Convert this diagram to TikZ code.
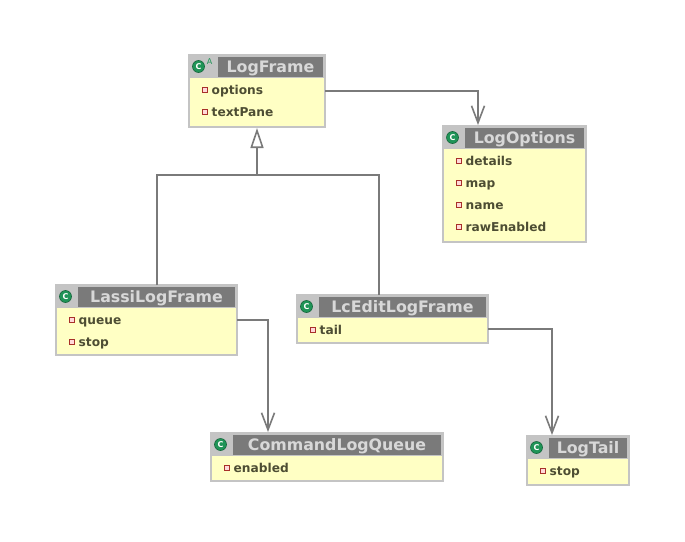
\documentclass[tikz,border=0pt]{standalone}
\usepackage{fontspec}
\setmainfont{DejaVu Sans}
\usetikzlibrary{arrows.meta,calc}
\definecolor{bodyY}{HTML}{FFFFC4}
\definecolor{frameG}{HTML}{C4C4C4}
\definecolor{hdrG}{HTML}{7A7A7A}
\definecolor{hdrT}{HTML}{D8D8D8}
\definecolor{attrT}{HTML}{4D4D33}
\definecolor{lineG}{HTML}{7A7A7A}
\definecolor{iconG}{HTML}{1F9457}
\definecolor{iconD}{HTML}{16663C}
\definecolor{bulR}{HTML}{A8302A}
\tikzset{
  box/.style={draw=frameG, fill=bodyY, line width=2pt, inner sep=0pt, outer sep=0pt},
  hdrtext/.style={text=hdrT, font=\bfseries\fontsize{15.8}{15.8}\selectfont, inner sep=0pt, anchor=base},
  attr/.style={text=attrT, font=\bfseries\fontsize{12.2}{12.2}\selectfont, inner sep=0pt, anchor=base west},
  icon/.style={circle, fill=iconG, draw=iconD, line width=0.6pt, minimum size=12pt, inner sep=0pt, text=white, font=\bfseries\fontsize{8}{8}\selectfont},
  bullet/.style={draw=bulR, fill=white!85!red, line width=1pt, minimum size=5pt, inner sep=0pt},
  conn/.style={draw=lineG, line width=2pt},
  assoc/.style={conn, -{Straight Barb[length=17pt, width=13pt, line width=1.6pt]}},
  inh/.style={conn, -{Triangle[open, length=20pt, width=13pt, line width=1.6pt, fill=white]}},
}
\newcommand\umlclass[8]{%
  \node[box, minimum width=#4pt, minimum height=#5pt, anchor=north west] (#1) at (#2,#3) {};
  \fill[frameG] (#2-1,#3-1) rectangle (#2+#4+1,#3+23);
  \fill[hdrG] (#2+#6,#3+2) rectangle (#2+#4-2,#3+22);
  \node[hdrtext] (#1-t) at ({#2+(#6+#4-2)/2},#3+17.5) {#7};
  \node[icon] (#1-i) at (#2+9.5,#3+11.5) {C};
  \foreach \a [count=\k] in {#8} {
    \node[bullet] (#1-b\k) at ({#2+15.5},{#3+13+22*\k}) {};
    \node[attr] (#1-a\k) at ({#2+22.5},{#3+17.5+22*\k}) {\a};
  }%
}
\begin{document}
\begin{tikzpicture}[x=1pt,y=-1pt]
\useasboundingbox[fill=white] (0,0) rectangle (685,541);
\umlclass{lf}{189}{55}{136}{72}{29}{LogFrame}{options,textPane}
\node[text=iconG, font=\fontsize{8}{8}\selectfont, inner sep=0pt] (lf-A) at (209.5,62) {A};
\umlclass{lo}{443}{126}{143}{116}{22}{LogOptions}{details,map,name,rawEnabled}
\umlclass{ll}{56}{285}{181}{70}{22}{LassiLogFrame}{queue,stop}
\umlclass{lc}{297}{295}{191}{48}{22}{LcEditLogFrame}{tail}
\umlclass{cq}{211}{433}{232}{48}{22}{CommandLogQueue}{enabled}
\umlclass{lt}{527}{436}{102}{49}{22}{LogTail}{stop}
% associations
\draw[assoc] ($(lf.north east)+(0,36)$) -| ($(lo.north west)+(35,-1)$);
\draw[assoc] ($(ll.north east)+(0,35)$) -| ($(cq.north west)+(57,-1)$);
\draw[assoc] ($(lc.north east)+(0,34)$) -| ($(lt.north west)+(25,-1)$);
% inheritance
\coordinate (lj) at ($(ll.north west)+(101,0)$);
\coordinate (rj) at ($(lc.north west)+(82,0)$);
\coordinate (mj) at (lf.south |- 0,175);
\draw[conn] (lj) -- (lj |- mj) -- (rj |- mj) -- (rj);
\draw[inh] (mj) -- ($(lf.south)+(0,1)$);
\end{tikzpicture}
\end{document}
